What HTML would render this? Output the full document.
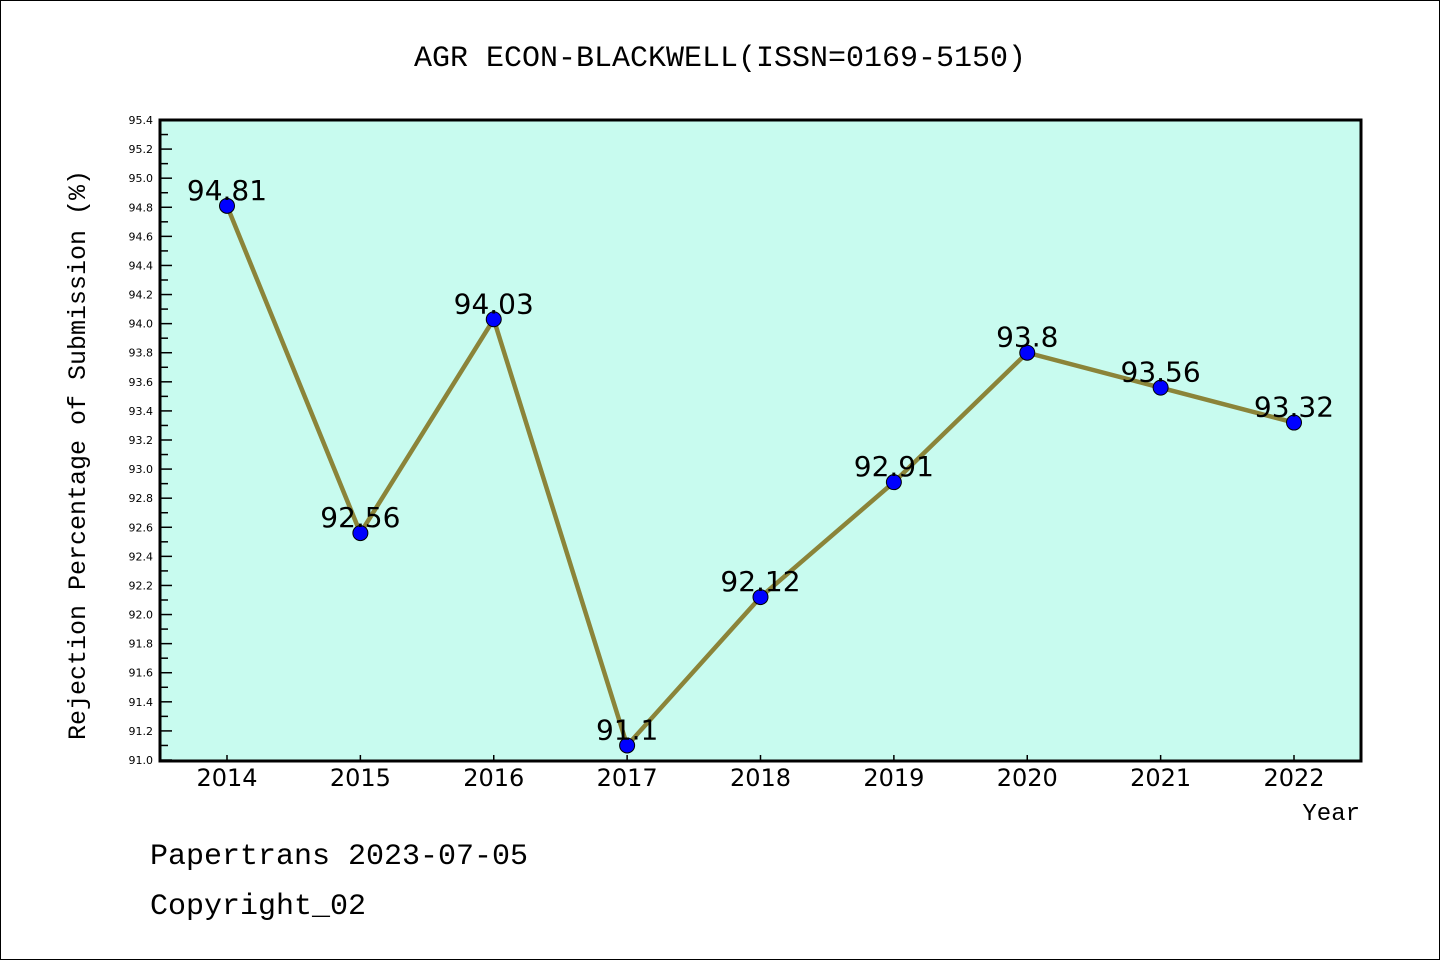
<!DOCTYPE html>
<html><head><meta charset="utf-8"><style>
body{margin:0;background:#fff}
svg{display:block}
.mono{font-family:"Liberation Mono","DejaVu Sans Mono",monospace}
.sans{font-family:"DejaVu Sans","Liberation Sans",sans-serif}
</style></head><body>
<svg id="c" width="1440" height="960">
<rect x="0.5" y="0.5" width="1439" height="959" fill="#fff" stroke="#000"/>
<text class="mono" x="720" y="66" text-anchor="middle" font-size="30">AGR ECON-BLACKWELL(ISSN=0169-5150)</text>
<rect x="160" y="120" width="1201" height="641" fill="#c8fbef"/>
<g id="ticks"></g>
<g id="series"></g>
<rect x="160" y="120" width="1201" height="641" fill="none" stroke="#000" stroke-width="3"/>
<text class="mono" transform="translate(85,455) rotate(-90)" text-anchor="middle" font-size="25">Rejection Percentage of Submission (%)</text>
<text class="mono" x="1360" y="820" text-anchor="end" font-size="24">Year</text>
<text class="mono" x="150" y="864" font-size="30">Papertrans 2023-07-05</text>
<text class="mono" x="150" y="914" font-size="30">Copyright_02</text>
</svg>
<script>
const years=[2014,2015,2016,2017,2018,2019,2020,2021,2022];
const values=[94.81,92.56,94.03,91.1,92.12,92.91,93.8,93.56,93.32];
const labels=["94.81","92.56","94.03","91.1","92.12","92.91","93.8","93.56","93.32"];
const yTicks=["91.0","91.2","91.4","91.6","91.8","92.0","92.2","92.4","92.6","92.8","93.0","93.2","93.4","93.6","93.8","94.0","94.2","94.4","94.6","94.8","95.0","95.2","95.4"];
const NS="http://www.w3.org/2000/svg";
const yMin=91.0,yMax=95.4;
function X(yr){return 227+(yr-2014)*(1294-227)/8;}
function Y(v){return 760-(v-yMin)/(yMax-yMin)*640;}
function mk(t,a,p){const e=document.createElementNS(NS,t);for(const k in a)e.setAttribute(k,a[k]);p.appendChild(e);return e;}
const tg=document.getElementById('ticks'),sg=document.getElementById('series');
for(let i=0;i<=44;i++){const v=yMin+i*0.1,y=Y(v);const major=i%2===0;
 const l=mk('line',{x1:160,x2:major?172:168,y1:y,y2:y,stroke:'#000','stroke-width':1.5},tg);
 
 }
yTicks.forEach(s=>{const t=mk('text',{x:153,y:Y(parseFloat(s))+4,'text-anchor':'end','font-size':11,'class':'sans'},tg);t.textContent=s;
 
 });
years.forEach(yr=>{const x=X(yr);
 const l=mk('line',{x1:x,x2:x,y1:761,y2:755,stroke:'#000','stroke-width':1.5},tg);
 
 
 const t=mk('text',{x:x,y:786,'text-anchor':'middle','font-size':24,'class':'sans'},tg);t.textContent=yr;
 
 });
const pl=mk('polyline',{points:years.map((yr,i)=>X(yr)+','+Y(values[i])).join(' '),fill:'none',stroke:'#8b8439','stroke-width':4.5},sg);


years.forEach((yr,i)=>{
 const c=mk('circle',{cx:X(yr),cy:Y(values[i]),r:7.5,fill:'#0000ff',stroke:'#000','stroke-width':1},sg);
 
 
 const t=mk('text',{x:X(yr),y:Y(values[i])-6,'text-anchor':'middle','font-size':28,'class':'sans'},sg);t.textContent=labels[i];
 
 });
</script>
</body></html>
